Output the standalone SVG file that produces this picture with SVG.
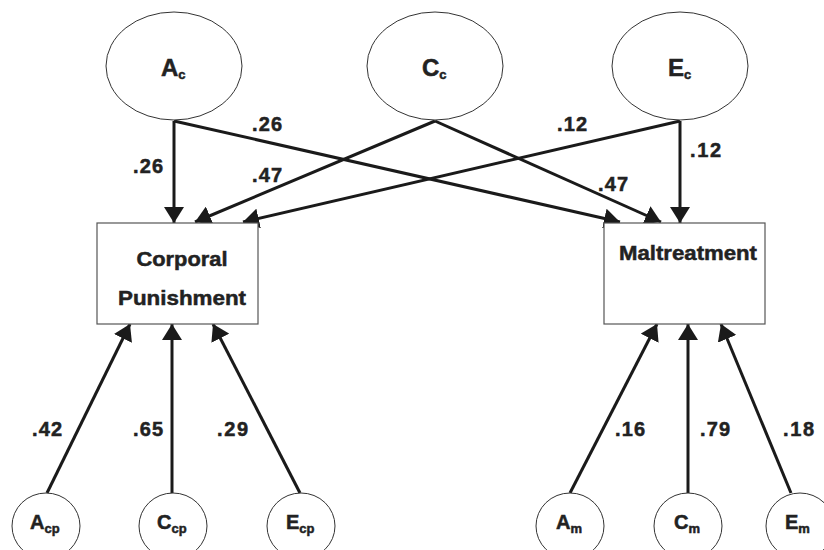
<svg xmlns="http://www.w3.org/2000/svg" width="824" height="550" viewBox="0 0 824 550">
<style>
.lat{fill:#fff;stroke:#333;stroke-width:1}
.box{fill:#fff;stroke:#555;stroke-width:1.2}
.lbl{font-family:"Liberation Sans",Arial,sans-serif;font-weight:bold;font-size:21px;fill:#222;stroke:#222;stroke-width:0.5}
.top{font-size:24px}
.bot{font-size:20px}
.sub{font-size:13px}
.coef{font-family:"Liberation Sans",Arial,sans-serif;font-weight:bold;font-size:20px;fill:#222;stroke:#222;stroke-width:0.5}
.ar{stroke:#1a1a1a;stroke-width:3;fill:none;marker-end:url(#ah)}
</style>
<defs>
<marker id="ah" viewBox="0 0 16 20" refX="16" refY="10" markerWidth="16" markerHeight="20" markerUnits="userSpaceOnUse" orient="auto">
<path d="M0,0 L16,10 L0,20 z" fill="#1a1a1a"/>
</marker>
</defs>
<rect width="824" height="550" fill="#fff"/>
<g id="connectors">
<line class="ar" x1="174" y1="121" x2="174" y2="223"/>
<line class="ar" x1="174" y1="121" x2="620" y2="222"/>
<line class="ar" x1="435" y1="121" x2="195" y2="222"/>
<line class="ar" x1="435" y1="121" x2="661" y2="222"/>
<line class="ar" x1="680" y1="121" x2="243" y2="222"/>
<line class="ar" x1="680" y1="121" x2="680" y2="223"/>
<line class="ar" x1="47" y1="493" x2="130" y2="324"/>
<line class="ar" x1="172" y1="493" x2="172" y2="324"/>
<line class="ar" x1="300" y1="493" x2="213" y2="324"/>
<line class="ar" x1="570" y1="493" x2="657" y2="324"/>
<line class="ar" x1="688" y1="493" x2="688" y2="324"/>
<line class="ar" x1="791" y1="493" x2="721" y2="324"/>
<text class="coef" x="133" y="173" textLength="30">.26</text>
<text class="coef" x="252" y="131" textLength="30">.26</text>
<text class="coef" x="252" y="182" textLength="30">.47</text>
<text class="coef" x="557" y="131" textLength="30">.12</text>
<text class="coef" x="690" y="157" textLength="31">.12</text>
<text class="coef" x="598" y="191" textLength="30">.47</text>
<text class="coef" x="32" y="436" textLength="30">.42</text>
<text class="coef" x="133" y="436" textLength="30">.65</text>
<text class="coef" x="217" y="436" textLength="31">.29</text>
<text class="coef" x="615" y="436" textLength="30">.16</text>
<text class="coef" x="700" y="436" textLength="30">.79</text>
<text class="coef" x="783" y="436" textLength="31">.18</text>
</g>
<g id="Ac"><ellipse class="lat" cx="174" cy="66" rx="68" ry="54"/><text class="lbl top" x="161" y="76">A<tspan class="sub" dy="3">c</tspan></text></g>
<g id="Cc"><ellipse class="lat" cx="435" cy="66" rx="68" ry="54"/><text class="lbl top" x="422" y="76">C<tspan class="sub" dy="3">c</tspan></text></g>
<g id="Ec"><ellipse class="lat" cx="680" cy="66" rx="68" ry="54"/><text class="lbl top" x="668" y="76">E<tspan class="sub" dy="3">c</tspan></text></g>
<g id="CP"><rect class="box" x="97" y="223" width="161" height="101"/>
<text class="lbl" x="182" y="266" text-anchor="middle" textLength="91" lengthAdjust="spacingAndGlyphs">Corporal</text>
<text class="lbl" x="182" y="305" text-anchor="middle" textLength="128" lengthAdjust="spacingAndGlyphs">Punishment</text></g>
<g id="M"><rect class="box" x="604" y="223" width="161" height="101"/>
<text class="lbl" x="688" y="260" text-anchor="middle" textLength="138" lengthAdjust="spacingAndGlyphs">Maltreatment</text></g>
<g id="Acp"><ellipse class="lat" cx="46" cy="526" rx="34" ry="33"/><text class="lbl bot" x="30" y="529">A<tspan class="sub" dy="4">cp</tspan></text></g>
<g id="Ccp"><ellipse class="lat" cx="173" cy="526" rx="34" ry="33"/><text class="lbl bot" x="157" y="529">C<tspan class="sub" dy="4">cp</tspan></text></g>
<g id="Ecp"><ellipse class="lat" cx="301" cy="526" rx="34" ry="33"/><text class="lbl bot" x="286" y="529">E<tspan class="sub" dy="4">cp</tspan></text></g>
<g id="Am"><ellipse class="lat" cx="570" cy="526" rx="34" ry="33"/><text class="lbl bot" x="556" y="529">A<tspan class="sub" dy="4">m</tspan></text></g>
<g id="Cm"><ellipse class="lat" cx="688" cy="526" rx="34" ry="33"/><text class="lbl bot" x="674" y="529">C<tspan class="sub" dy="4">m</tspan></text></g>
<g id="Em"><ellipse class="lat" cx="800" cy="526" rx="34" ry="33"/><text class="lbl bot" x="785" y="529">E<tspan class="sub" dy="4">m</tspan></text></g>
</svg>
